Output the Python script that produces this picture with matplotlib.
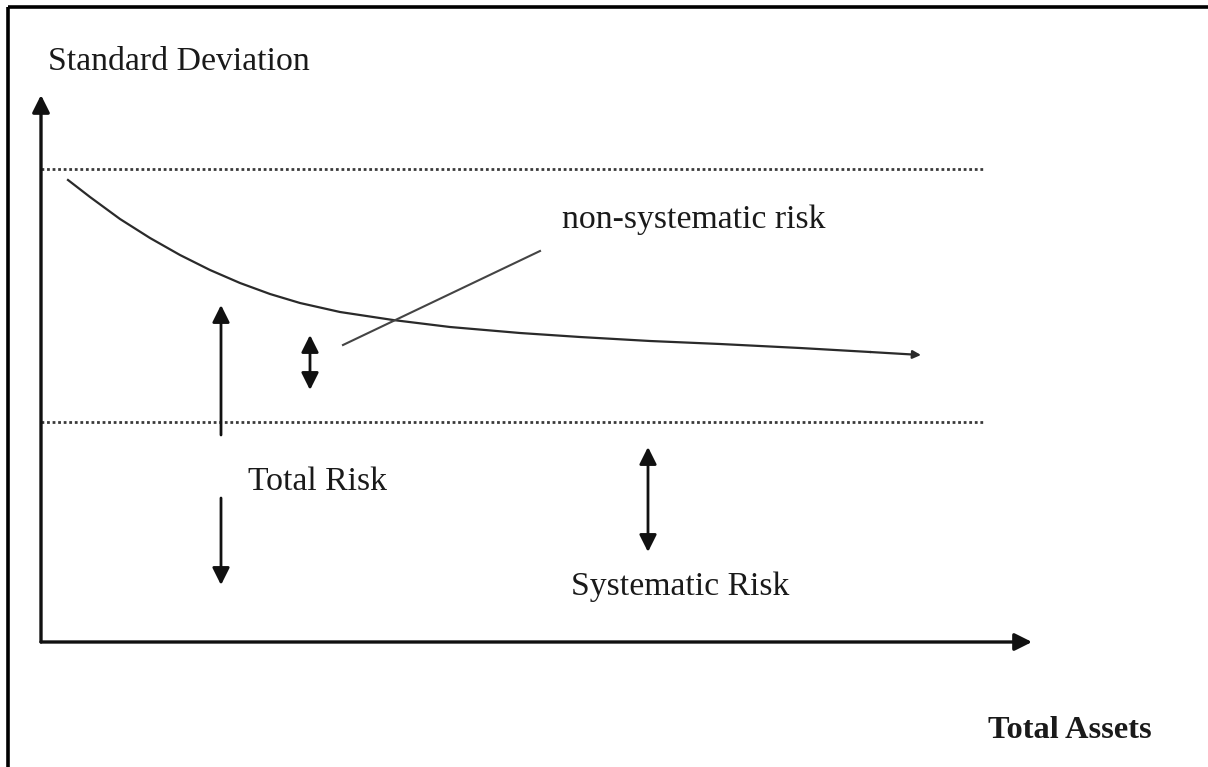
import matplotlib.pyplot as plt

# diagram in pixel coordinates (y grows downwards)
W, H = 1208, 767

# diversification curve
curve_x = [68, 90, 120, 150, 180, 210, 240, 270, 300, 340, 393, 450, 520,
           580, 650, 720, 800, 870, 921]
curve_y = [180, 197, 219, 238, 255, 270, 283, 294, 303, 312, 320, 327, 333,
           337, 341, 344, 348, 352, 355]

# levels
total_risk_level = 169
systematic_level = 422
level_x = [41, 985]

# axes
origin = (41, 642)
y_axis_top = 95
x_axis_end = 1032

# vertical arrows: (x, y_start, y_end)
up_arrows = [(221, 435, 305)]
down_arrows = [(221, 498, 585)]
double_arrows = [(310, 335, 390), (648, 447, 552)]

# leader line to the non-systematic label
leader_x = [343, 540]
leader_y = [345, 251]

# labels: (text, x, baseline y, bold)
labels = [
    ("Standard Deviation", 48, 70, False),
    ("non-systematic risk", 562, 228, False),
    ("Total Risk", 248, 490, False),
    ("Systematic Risk", 571, 595, False),
    ("Total Assets", 988, 738, True),
]

plt.rcParams['font.family'] = ['Liberation Serif', 'DejaVu Serif']

fig = plt.figure(figsize=(W / 100, H / 100), dpi=100)
ax = fig.add_axes([0, 0, 1, 1])
ax.set_xlim(0, W)
ax.set_ylim(H, 0)
ax.axis('off')

ink = '#111111'

# frame (top and left only)
ax.plot([8, W], [6.5, 6.5], color='black', lw=2.6, solid_capstyle='butt')
ax.plot([8, 8], [6.5, H], color='black', lw=2.6, solid_capstyle='butt')


def arrow(x0, y0, x1, y1, style='-|>', lw=2.0, scale=26):
    ax.annotate('', xy=(x1, y1), xytext=(x0, y0),
                arrowprops=dict(arrowstyle=style, color=ink, lw=lw,
                                mutation_scale=scale, shrinkA=0, shrinkB=0))


# axes
arrow(origin[0], origin[1], origin[0], y_axis_top, lw=2.4)
arrow(origin[0], origin[1], x_axis_end, origin[1], lw=2.4)

# dotted levels
for lvl in (total_risk_level, systematic_level):
    ax.plot(level_x, [lvl, lvl], color='#3a3a3a', lw=2.0,
            linestyle=(0, (1, 1)))

# curve with small arrow at the end
ax.plot(curve_x[:-1], curve_y[:-1], color='#2a2a2a', lw=1.6,
        solid_joinstyle='round')
ax.annotate('', xy=(curve_x[-1], curve_y[-1]), xytext=(curve_x[-2], curve_y[-2]),
            arrowprops=dict(arrowstyle='-|>', color='#2a2a2a', lw=1.6,
                            mutation_scale=12, shrinkA=0, shrinkB=0))

# leader line
ax.plot(leader_x, leader_y, color='#444444', lw=1.5)

for x, y0, y1 in up_arrows + down_arrows:
    arrow(x, y0, x, y1)
for x, y0, y1 in double_arrows:
    arrow(x, y0, x, y1, style='<|-|>')

for text, x, y, bold in labels:
    ax.text(x, y, text, ha='left', va='baseline',
            fontsize=23.3 if bold else 24.3,
            fontweight='bold' if bold else 'normal', color='#1a1a1a')

fig.savefig('out.png', dpi=100)
